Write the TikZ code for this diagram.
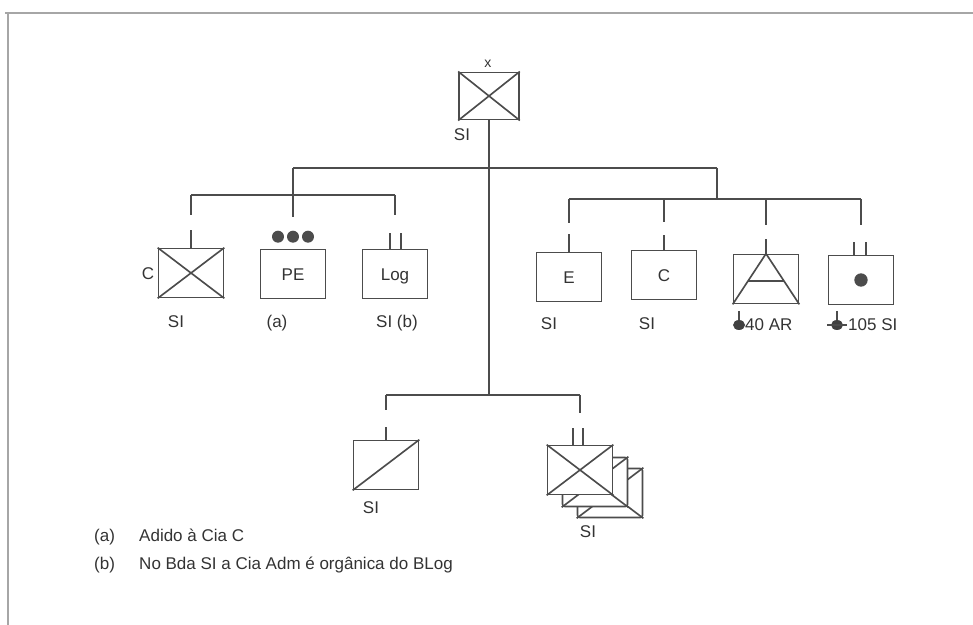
\documentclass[tikz,border=0pt]{standalone}
\usepackage{fontspec}
\setmainfont{Liberation Sans}
\usetikzlibrary{calc}
\usetikzlibrary{positioning}

\tikzset{
  unit/.style={draw=black!70, line width=1.4pt, fill=white, minimum width=1.95cm, minimum height=1.47cm, inner sep=0pt},
  conn/.style={draw=black!70, line width=1.4pt},
  lbl/.style={text=black!80, font=\fontsize{14.5}{16}\selectfont, inner sep=0pt, text height=10.5pt, text depth=0pt},
  frame/.style={draw=black!35, line width=1.6pt},
}

\begin{document}
\begin{tikzpicture}[x=0.03cm, y=-0.03cm]
\useasboundingbox (0,0) rectangle (973,625);
\draw[frame] (5,13) -- (973,13);
\draw[frame] (8,13) -- (8,625);

% brigada
\node[unit, minimum width=1.8cm, minimum height=1.42cm] (bda) at (489,96) {};
\draw[conn] (bda.north west) -- (bda.south east) (bda.north east) -- (bda.south west);
\node[lbl, font=\fontsize{12}{12}\selectfont, text height=6pt] (bdax) at (488,64) {x};
\node[lbl] (bdasi) at (462,134) {SI};

% primeira linha, esquerda
\node[unit] (cia) at (191,273) {};
\draw[conn] (cia.north west) -- (cia.south east) (cia.north east) -- (cia.south west);
\node[lbl] (ciac) at (148,273) {C};
\node[lbl] (ciasi) at (176,321) {SI};
\node[unit] (pe) at (293,274) {};
\node[lbl] at (pe.center) {PE};
\node[lbl] (pea) at (277,321) {(a)};
\node[unit] (log) at (395,274) {};
\node[lbl] at (log.center) {Log};
\node[lbl] (logsi) at (397,321) {SI (b)};

% primeira linha, direita
\node[unit] (eng) at (569,277) {};
\node[lbl] at (eng.center) {E};
\node[lbl] (engsi) at (549,323) {SI};
\node[unit] (com) at (664,275) {};
\node[lbl] at (com.center) {C};
\node[lbl] (comsi) at (647,323) {SI};
\node[unit] (aaae) at (766,279) {};
\draw[conn] (aaae.south west) -- (aaae.north) -- (aaae.south east);
\draw[conn] ($(aaae.south west)!0.46!(aaae.north)$) -- ($(aaae.south east)!0.46!(aaae.north)$);
\node[lbl, anchor=west] (aaaelbl) at (745,324) {40 AR};
\node[unit] (art) at (861,280) {};
\fill[black!70] (art.center) circle[radius=0.2cm];
\node[lbl, anchor=west] (artlbl) at (848,324) {105 SI};

% segunda linha
\node[unit] (rec) at (386,465) {};
\draw[conn] (rec.south west) -- (rec.north east);
\node[lbl] (recsi) at (371,507) {SI};
\node[unit, rounded corners=2pt] (cav3) at (610,493) {};
\draw[conn] (cav3.north west) -- (cav3.south east) (cav3.north east) -- (cav3.south west);
\node[unit, rounded corners=2pt] (cav2) at (595,482) {};
\draw[conn] (cav2.north west) -- (cav2.south east) (cav2.north east) -- (cav2.south west);
\node[unit] (cav) at (580,470) {};
\draw[conn] (cav.north west) -- (cav.south east) (cav.north east) -- (cav.south west);
\node[lbl] (cavsi) at (588,531) {SI};

% ligacoes
\coordinate (hubl) at (293,168);
\coordinate (hubr) at (717,168);
\coordinate (barl) at (293,195);
\coordinate (barr) at (717,199);
\coordinate (barb) at (489,395);
\draw[conn] (bda.south) -- (barb);
\draw[conn] (hubl) -- (hubr);
\draw[conn] (hubl) -- (barl);
\draw[conn] (hubr) -- (barr);
\draw[conn] (cia.north |- barl) -- (log.north |- barl);
\draw[conn] (cia.north |- barl) -- ++(0,20);
\draw[conn] (cia.north) -- ++(0,-18);
\draw[conn] (barl) -- ++(0,22);
\foreach \dx in {-15,0,15}
  \fill[black!70] (pe.north) ++(\dx,-12) circle[radius=0.18cm];
\draw[conn] (log.north |- barl) -- ++(0,20);
\draw[conn] (log.north) ++(-5,0) -- ++(0,-16);
\draw[conn] (log.north) ++(6,0) -- ++(0,-16);

\draw[conn] (eng.north |- barr) -- (art.north |- barr);
\draw[conn] (eng.north |- barr) -- ++(0,24);
\draw[conn] (eng.north) -- ++(0,-18);
\draw[conn] (com.north |- barr) -- ++(0,23);
\draw[conn] (com.north) -- ++(0,-15);
\draw[conn] (aaae.north |- barr) -- ++(0,26);
\draw[conn] (aaae.north) -- ++(0,-15);
\draw[conn] (art.north |- barr) -- ++(0,26);
\draw[conn] (art.north) ++(-7,0) -- ++(0,-13);
\draw[conn] (art.north) ++(5,0) -- ++(0,-13);

\draw[conn] (rec.north |- barb) -- (cav.north |- barb);
\draw[conn] (rec.north |- barb) -- ++(0,15);
\draw[conn] (rec.north) -- ++(0,-13);
\draw[conn] (cav.north |- barb) -- ++(0,18);
\draw[conn] (cav.north) ++(-7,0) -- ++(0,-17);
\draw[conn] (cav.north) ++(3,0) -- ++(0,-17);

% simbolos de calibre
\draw[conn, line width=1pt] (aaaelbl.west) ++(-6,-13) -- ++(0,10);
\fill[black!75] (aaaelbl.west) ++(-6,1) ellipse[x radius=0.18cm, y radius=0.15cm];
\draw[conn, line width=1pt] (artlbl.west) ++(-11,-13) -- ++(0,10);
\fill[black!75] (artlbl.west) ++(-11,1) ellipse[x radius=0.18cm, y radius=0.15cm];
\draw[conn, line width=1pt] (artlbl.west) ++(-21,1) -- ++(20,0);

% notas
\node[lbl, anchor=west] (nota) at (94,535) {(a)};
\node[lbl, anchor=west] (notatxt) at (139,535) {Adido à Cia C};
\node[lbl, anchor=west] (notb) at (94,563) {(b)};
\node[lbl, anchor=west] (notbtxt) at (139,563) {No Bda SI a Cia Adm é orgânica do BLog};
\end{tikzpicture}
\end{document}
